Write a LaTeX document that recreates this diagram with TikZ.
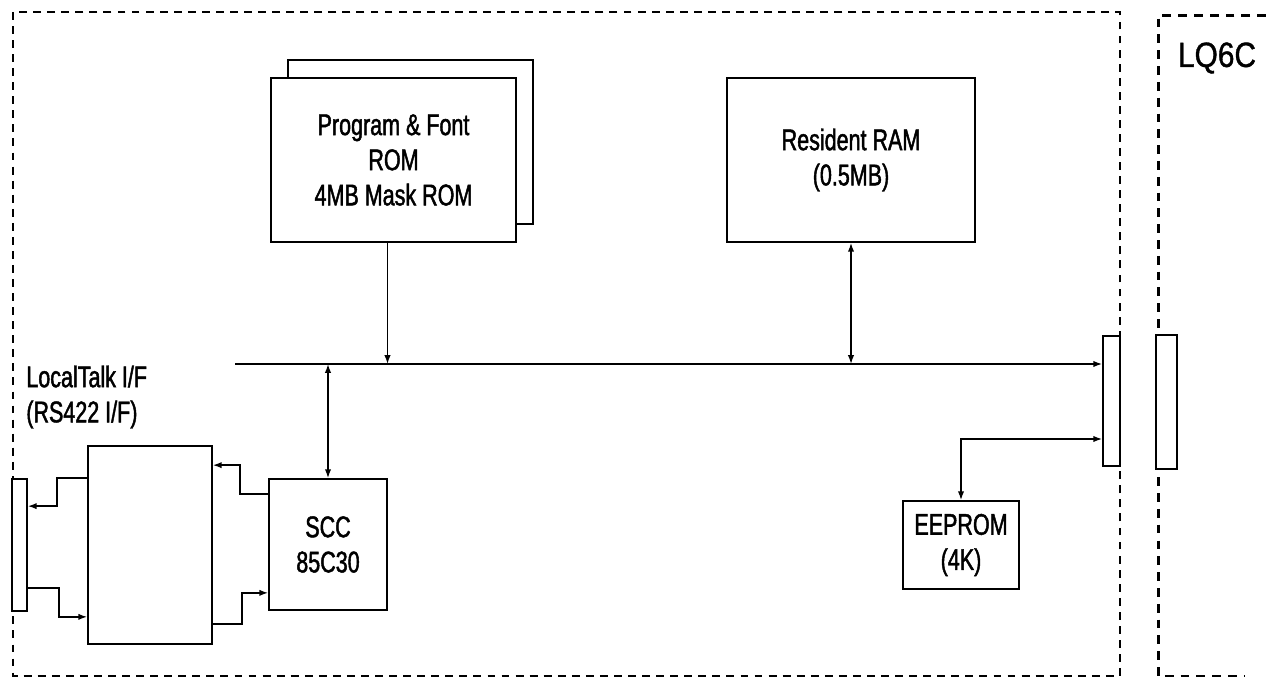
\documentclass[tikz,border=0pt]{standalone}
\usepackage{fontspec}
\setmainfont{Liberation Sans}[FakeStretch=0.72,FakeBold=1.5]
\newfontfamily\lqfont{Liberation Sans}[FakeStretch=0.85,FakeBold=1]
\usepackage{tikz}
\usetikzlibrary{arrows.meta,calc}
\tikzset{
  blk/.style={draw,line width=1pt,fill=white,align=center,inner sep=0pt,font=\fontsize{17}{20}\selectfont},
  port/.style={draw,line width=1pt,fill=white,inner sep=0pt},
  bnd/.style={line width=1.1pt,dash pattern=on 4.5pt off 3.5pt},
  wire/.style={line width=0.8pt}
}

\begin{document}
\begin{tikzpicture}[x=0.02cm,y=-0.02cm,>={Latex[length=5pt,width=3.6pt]}]
    \useasboundingbox (0,0) rectangle (1266,678);
    \draw[bnd] (13,12) rectangle (1120,676);
    \draw[bnd,line width=1.7pt,dash pattern=on 5pt off 4pt] (1266,16) -- (1158,16) -- (1158,676) -- (1245,676);
    \node[font=\lqfont\fontsize{20}{24}\selectfont,inner sep=0pt] (lqlabel) at (1217,58) {LQ6C};
    \node[blk,minimum width=4.9cm,minimum height=3.28cm] (romback) at (410.5,142) {};
    \node[blk,minimum width=4.9cm,minimum height=3.28cm] (rom) at (393.5,160) {Program \& Font\\ROM\\4MB Mask ROM};
    \node[blk,minimum width=4.96cm,minimum height=3.28cm] (ram) at (851,160) {Resident RAM\\(0.5MB)};
    \node[blk,minimum width=2.36cm,minimum height=2.62cm] (scc) at (328,544.5) {SCC\\85C30};
    \node[blk,minimum width=2.48cm,minimum height=3.96cm] (xcvr) at (150,545) {};
    \node[blk,minimum width=2.32cm,minimum height=1.76cm] (eeprom) at (961,545) {EEPROM\\(4K)};
    \node[port,minimum width=0.3cm,minimum height=2.64cm] (lconn) at (19.5,545) {};
    \node[port,minimum width=0.34cm,minimum height=2.6cm] (conn) at (1111.5,401) {};
    \node[port,line width=1.5pt,minimum width=0.42cm,minimum height=2.68cm] (lqconn) at (1166.5,402) {};
    \node[anchor=west,align=left,inner sep=0pt,font=\fontsize{17}{20}\selectfont] (ltlabel) at (26,397) {LocalTalk I/F\\(RS422 I/F)};
    \coordinate (busL) at (235,364);
    \draw[wire,->] (busL) -- (conn.west |- busL);
    \draw[wire,->] ($(rom.south)+(-6,0)$) -- ($(rom.south |- busL)+(-6,0)$);
    \draw[wire,<->] (ram.south) -- (ram.south |- busL);
    \draw[wire,<->] (scc.north |- busL) -- (scc.north);
    \draw[wire,<->] (eeprom.north) |- ($(conn.west)+(0,38)$);
    \draw[wire,->] ($(xcvr.north west)+(0,33)$) -- ++(-30,0) |- ($(lconn.north east)+(0,28)$);
    \draw[wire,->] ($(lconn.south east)+(0,-24)$) -- ++(31,0) |- ($(xcvr.south west)+(0,-28)$);
    \draw[wire,->] ($(scc.north west)+(0,16)$) -- ++(-28,0) |- ($(xcvr.north east)+(0,20)$);
    \draw[wire,->] ($(xcvr.south east)+(0,-21)$) -- ++(29,0) |- ($(scc.south west)+(0,-18)$);
\end{tikzpicture}
\end{document}
